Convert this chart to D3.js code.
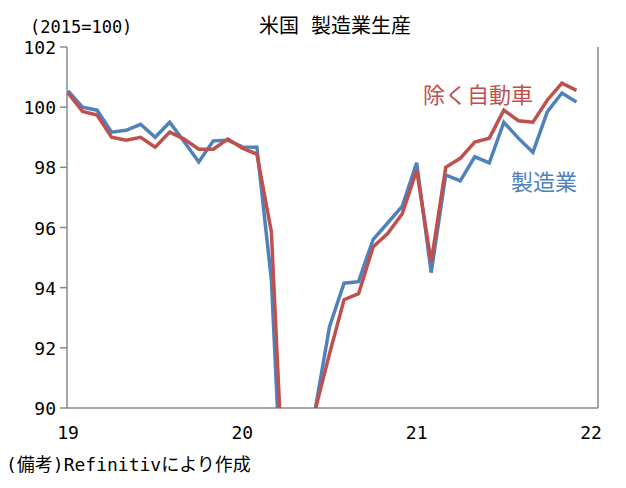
<!DOCTYPE html>
<html><head><meta charset="utf-8">
<script src="https://cdn.jsdelivr.net/npm/d3@7"></script>
<style>body{margin:0;background:#fff}text{font-family:"DejaVu Sans Mono","Noto Sans CJK JP",monospace}</style>
</head><body><svg id="c" width="626" height="488"></svg>
<script>
// months from Jan 2019 to Dec 2021 (index 0..35)
const yearTicks = [0, 12, 24, 36];
const yearLabels = ["19", "20", "21", "22"];
const yTicks = [90, 92, 94, 96, 98, 100, 102];
// 製造業
const mfg = [100.54, 100.0, 99.9, 99.17, 99.23, 99.43, 99.0, 99.5, 98.85, 98.18, 98.88, 98.9,
  98.68, 98.67, 94.25, 84.0, 86.5, 89.9, 92.7, 94.15, 94.2, 95.6, 96.15, 96.7,
  98.15, 94.5, 97.75, 97.55, 98.35, 98.15, 99.5, 98.97, 98.5, 99.85, 100.47, 100.17];
// 除く自動車
const exAuto = [100.47, 99.86, 99.74, 99.0, 98.9, 99.0, 98.67, 99.17, 98.94, 98.6, 98.6, 98.94,
  98.64, 98.44, 95.85, 85.5, 87.5, 89.9, 91.8, 93.6, 93.8, 95.35, 95.8, 96.45,
  97.9, 94.85, 98.0, 98.3, 98.84, 98.97, 99.9, 99.55, 99.5, 100.24, 100.8, 100.56];

const svg = d3.select("#c");
const x = d3.scaleLinear().domain([0, 36]).range([68, 591]);
const y = d3.scaleLinear().domain([90, 102]).range([408, 47]);
const grey = "#888";

svg.append("defs").append("clipPath").attr("id", "clip")
  .append("rect").attr("x", 60).attr("y", 40).attr("width", 540).attr("height", 368);

// y axis
svg.append("line").attr("x1", 67).attr("x2", 67).attr("y1", 47).attr("y2", 408).attr("stroke", grey).attr("stroke-width", 1.5);
yTicks.forEach(t => {
  svg.append("line").attr("x1", 60).attr("x2", 67).attr("y1", y(t)).attr("y2", y(t)).attr("stroke", grey).attr("stroke-width", 1.5);
  svg.append("text").attr("x", 56).attr("y", y(t) + 7).attr("text-anchor", "end").attr("font-size", 18).text(t);
});
// x axis + right border
svg.append("line").attr("x1", 67).attr("x2", 598).attr("y1", 408).attr("y2", 408).attr("stroke", grey).attr("stroke-width", 1.5);
svg.append("line").attr("x1", 598).attr("x2", 598).attr("y1", 47).attr("y2", 408).attr("stroke", grey).attr("stroke-width", 1.5);
yearTicks.forEach((t, i) => {
  svg.append("text").attr("x", x(t)).attr("y", 439).attr("text-anchor", "middle").attr("font-size", 18).text(yearLabels[i]);
});

const line = d3.line().x((d, i) => x(i)).y(d => y(d));
const g = svg.append("g").attr("clip-path", "url(#clip)");
g.append("path").datum(mfg).attr("d", line).attr("fill", "none").attr("stroke", "#4f81bd").attr("stroke-width", 3.5);
g.append("path").datum(exAuto).attr("d", line).attr("fill", "none").attr("stroke", "#c0504d").attr("stroke-width", 3.5);

svg.append("text").attr("x", 335).attr("y", 33).attr("text-anchor", "middle").attr("font-size", 20).text("米国 製造業生産");
svg.append("text").attr("x", 30).attr("y", 33).attr("font-size", 17).text("(2015=100)");
svg.append("text").attr("x", 478).attr("y", 103).attr("text-anchor", "middle").attr("font-size", 22).attr("fill", "#c0504d").text("除く自動車");
svg.append("text").attr("x", 544).attr("y", 190).attr("text-anchor", "middle").attr("font-size", 22).attr("fill", "#4f81bd").text("製造業");
svg.append("text").attr("x", 6).attr("y", 471).attr("font-size", 18).text("(備考)Refinitivにより作成");
</script></body></html>
